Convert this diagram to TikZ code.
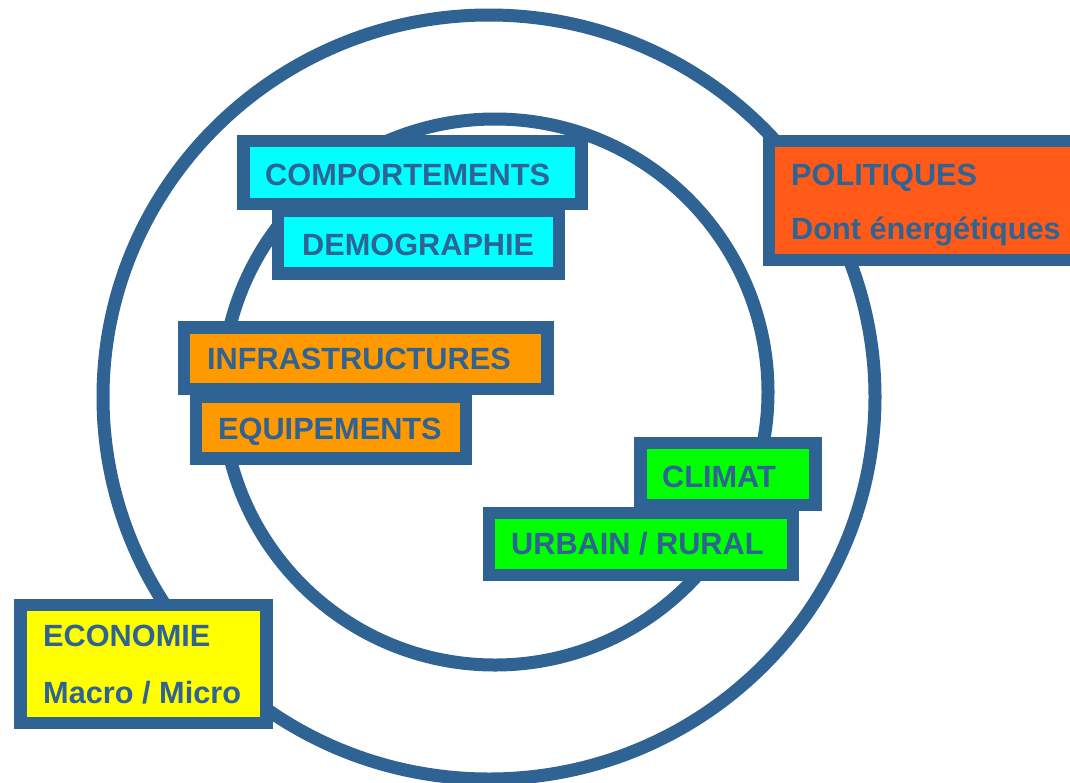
\documentclass[tikz,border=0pt]{standalone}
\usepackage{fontspec}
\setmainfont{Liberation Sans}
\definecolor{frame}{RGB}{46,99,148}
\definecolor{cyanfill}{RGB}{0,255,255}
\definecolor{orangefill}{RGB}{255,153,0}
\definecolor{greenfill}{RGB}{0,255,0}
\definecolor{yellowfill}{RGB}{255,255,0}
\definecolor{redfill}{RGB}{255,90,24}
\begin{document}
\begin{tikzpicture}[x=1pt,y=-1pt,
  ring/.style={draw=frame, line width=13pt},
  box/.style={draw=frame, line width=12.5pt, rectangle, inner sep=0pt, outer sep=0pt},
  lbl/.style={anchor=base west, inner sep=0pt, text=frame,
              font=\fontsize{30.7}{36}\selectfont\bfseries}]
\useasboundingbox (0,0) rectangle (1070,782);
\clip (0,0) rectangle (1070,782);
\fill[white] (0,0) rectangle (1070,782);

% the two rings
\draw[ring] (489,397) ellipse [x radius=386pt, y radius=382pt];
\draw[ring] (495,392) circle [radius=273pt];

% boxes
\node[box, fill=cyanfill,   minimum width=338pt, minimum height=63pt]   (comp)  at (412.5,172.5) {};
\node[box, fill=cyanfill,   minimum width=281pt, minimum height=62.5pt] (demo)  at (418.5,242)   {};
\node[box, fill=orangefill, minimum width=363.5pt, minimum height=61.5pt] (infra) at (365.75,358.25) {};
\node[box, fill=orangefill, minimum width=270pt, minimum height=61.5pt] (equip) at (331,427.75)  {};
\node[box, fill=greenfill,  minimum width=175pt, minimum height=62pt]   (clim)  at (728,474)     {};
\node[box, fill=greenfill,  minimum width=304pt, minimum height=62pt]   (urb)   at (641,544)     {};
\node[box, fill=redfill,    minimum width=331pt, minimum height=119pt]  (pol)   at (934.5,200.5) {};
\node[box, fill=yellowfill, minimum width=246pt, minimum height=118pt]  (eco)   at (143.5,664)   {};

% labels
\node[lbl] (tcomp)  at (265,185) {COMPORTEMENTS};
\node[lbl] (tdemo)  at (302,255) {DEMOGRAPHIE};
\node[lbl] (tinfra) at (207,369) {INFRASTRUCTURES};
\node[lbl] (tequip) at (218,439) {EQUIPEMENTS};
\node[lbl] (tclim)  at (662,487) {CLIMAT};
\node[lbl] (turb)   at (511,554) {URBAIN / RURAL};
\node[lbl] (tpol)   at (791,185) {POLITIQUES};
\node[lbl] (tpol2)  at (791,239) {Dont énergétiques};
\node[lbl] (teco)   at (43,646)  {ECONOMIE};
\node[lbl] (teco2)  at (43,703)  {Macro / Micro};
\end{tikzpicture}
\end{document}
